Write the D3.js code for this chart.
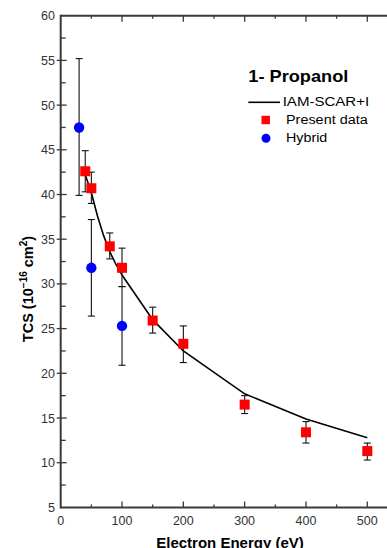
<!DOCTYPE html>
<html>
<head>
<meta charset="utf-8">
<script src="https://cdn.jsdelivr.net/npm/d3@7"></script>
<style>
  body { margin: 0; background: #fff; }
  svg { display: block; font-family: "Liberation Sans", Arial, sans-serif; }
</style>
</head>
<body>
<svg id="chart" width="387" height="548"></svg>
<script>
// IAM-SCAR+I theory curve
const theoryE = [40, 50, 60, 70, 80, 90, 100, 150, 200, 300, 400, 500];
const theoryTCS = [42.2, 40.2, 37.6, 35.4, 33.6, 32.2, 31.0, 26.0, 22.5, 17.7, 14.9, 12.8];

// present data (red squares)
const presentE = [40, 50, 80, 100, 150, 200, 300, 400, 500];
const presentTCS = [42.6, 40.7, 34.2, 31.8, 25.9, 23.3, 16.5, 13.4, 11.3];
const presentErrLo = [40.3, 39.0, 32.8, 29.7, 24.5, 21.2, 15.5, 12.2, 10.3];
const presentErrHi = [44.9, 42.5, 35.7, 34.0, 27.4, 25.3, 17.5, 14.6, 12.2];

// hybrid (blue circles)
const hybridE = [30, 50, 100];
const hybridTCS = [47.5, 31.8, 25.3];
const hybridErrLo = [39.9, 26.4, 20.9];
const hybridErrHi = [55.2, 37.2, 29.7];

const xTicks = [0, 100, 200, 300, 400, 500];
const yTicks = [5, 10, 15, 20, 25, 30, 35, 40, 45, 50, 55, 60];

const svg = d3.select('#chart');

const x = d3.scaleLinear().domain([0, 540]).range([60.7, 60.7 + 540 * 0.6132]);
const y = d3.scaleLinear().domain([5, 60]).range([507.4, 15.7]);

const axisColor = '#3a3a3a';
const labelColor = '#333';

// frame (top, left, bottom; right side falls outside the picture)
const frame = svg.append('g').attr('stroke', axisColor).attr('stroke-width', 2);
frame.append('line')
  .attr('x1', x(0)).attr('x2', x(540)).attr('y1', y(5)).attr('y2', y(5));
frame.append('line')
  .attr('x1', x(0)).attr('x2', x(540)).attr('y1', y(60)).attr('y2', y(60));
frame.append('line')
  .attr('x1', x(0)).attr('x2', x(0)).attr('y1', y(5) + 1).attr('y2', y(60) - 1);

// x ticks (inward), bottom and top
const xMinor = d3.range(50, 540, 100);
const xt = svg.append('g').attr('stroke', axisColor).attr('stroke-width', 1.3);
xt.selectAll('.xb').data(xTicks.slice(1)).join('line')
  .attr('x1', d => x(d)).attr('x2', d => x(d))
  .attr('y1', y(5)).attr('y2', y(5) - 6);
xt.selectAll('.xbm').data(xMinor).join('line')
  .attr('x1', d => x(d)).attr('x2', d => x(d))
  .attr('y1', y(5)).attr('y2', y(5) - 3);
xt.selectAll('.xt').data(xTicks.slice(1)).join('line')
  .attr('x1', d => x(d)).attr('x2', d => x(d))
  .attr('y1', y(60)).attr('y2', y(60) + 6);
xt.selectAll('.xtm').data(xMinor).join('line')
  .attr('x1', d => x(d)).attr('x2', d => x(d))
  .attr('y1', y(60)).attr('y2', y(60) + 3);

// y ticks
const yMinor = d3.range(7.5, 60, 5);
const yt = svg.append('g').attr('stroke', axisColor).attr('stroke-width', 1.3);
yt.selectAll('.ym').data(yTicks.slice(1, -1)).join('line')
  .attr('x1', x(0) - 4).attr('x2', x(0) + 6)
  .attr('y1', d => y(d)).attr('y2', d => y(d));
yt.selectAll('.yn').data(yMinor).join('line')
  .attr('x1', x(0)).attr('x2', x(0) + 5)
  .attr('y1', d => y(d)).attr('y2', d => y(d));

// tick labels
svg.append('g').selectAll('text').data(xTicks).join('text')
  .attr('x', d => x(d)).attr('y', 525)
  .attr('text-anchor', 'middle').attr('font-size', 12.5).attr('fill', labelColor)
  .text(d => d);
svg.append('g').selectAll('text').data(yTicks).join('text')
  .attr('x', 55).attr('y', d => y(d) + 4.5)
  .attr('text-anchor', 'end').attr('font-size', 12.5).attr('fill', labelColor)
  .text(d => d);

// axis titles
svg.append('text')
  .attr('x', 230).attr('y', 548)
  .attr('text-anchor', 'middle').attr('font-size', 15).attr('font-weight', 'bold')
  .text('Electron Energy (eV)');

const yTitle = svg.append('text')
  .attr('transform', 'translate(33,289) rotate(-90)')
  .attr('text-anchor', 'middle').attr('font-size', 14.5).attr('font-weight', 'bold');
yTitle.append('tspan').text('TCS (10');
yTitle.append('tspan').attr('dy', -6).attr('font-size', 10).text('\u221216');
yTitle.append('tspan').attr('dy', 6).text(' cm');
yTitle.append('tspan').attr('dy', -6).attr('font-size', 10).text('2');
yTitle.append('tspan').attr('dy', 6).text(')');

// theory line
const theory = theoryE.map((e, i) => [e, theoryTCS[i]]);
svg.append('path')
  .datum(theory)
  .attr('fill', 'none').attr('stroke', '#000').attr('stroke-width', 1.6)
  .attr('d', d3.line().x(d => x(d[0])).y(d => y(d[1])));

// error bars
function errorBars(es, lo, hi) {
  const g = svg.append('g').attr('stroke', '#111').attr('stroke-width', 1.1);
  es.forEach((e, i) => {
    const cx = x(e);
    g.append('line').attr('x1', cx).attr('x2', cx).attr('y1', y(lo[i])).attr('y2', y(hi[i]));
    g.append('line').attr('x1', cx - 3.5).attr('x2', cx + 3.5).attr('y1', y(lo[i])).attr('y2', y(lo[i]));
    g.append('line').attr('x1', cx - 3.5).attr('x2', cx + 3.5).attr('y1', y(hi[i])).attr('y2', y(hi[i]));
  });
}
errorBars(presentE, presentErrLo, presentErrHi);
errorBars(hybridE, hybridErrLo, hybridErrHi);

// markers
svg.append('g').selectAll('rect').data(presentE).join('rect')
  .attr('x', d => x(d) - 5).attr('y', (d, i) => y(presentTCS[i]) - 5)
  .attr('width', 10).attr('height', 10).attr('fill', '#ff0000');
svg.append('g').selectAll('circle').data(hybridE).join('circle')
  .attr('cx', d => x(d)).attr('cy', (d, i) => y(hybridTCS[i]))
  .attr('r', 5.2).attr('fill', '#0000ff');

// legend
const lg = svg.append('g');
lg.append('text').attr('x', 248.3).attr('y', 81.7)
  .attr('font-size', 17).attr('font-weight', 'bold')
  .attr('textLength', 100).attr('lengthAdjust', 'spacingAndGlyphs')
  .text('1- Propanol');
lg.append('line').attr('x1', 248.3).attr('x2', 280).attr('y1', 102.3).attr('y2', 102.3)
  .attr('stroke', '#000').attr('stroke-width', 1.6);
lg.append('text').attr('x', 282.7).attr('y', 105.8).attr('font-size', 12)
  .attr('textLength', 86.5).attr('lengthAdjust', 'spacingAndGlyphs')
  .text('IAM-SCAR+I');
lg.append('rect').attr('x', 261.5).attr('y', 115.8).attr('width', 8.4).attr('height', 8.4).attr('fill', '#ff0000');
lg.append('text').attr('x', 286).attr('y', 124).attr('font-size', 12.5)
  .attr('textLength', 81.7).attr('lengthAdjust', 'spacingAndGlyphs')
  .text('Present data');
lg.append('circle').attr('cx', 266).attr('cy', 138.3).attr('r', 4.5).attr('fill', '#0000ff');
lg.append('text').attr('x', 286).attr('y', 142.3).attr('font-size', 12.5)
  .attr('textLength', 41.3).attr('lengthAdjust', 'spacingAndGlyphs')
  .text('Hybrid');
</script>
</body>
</html>
